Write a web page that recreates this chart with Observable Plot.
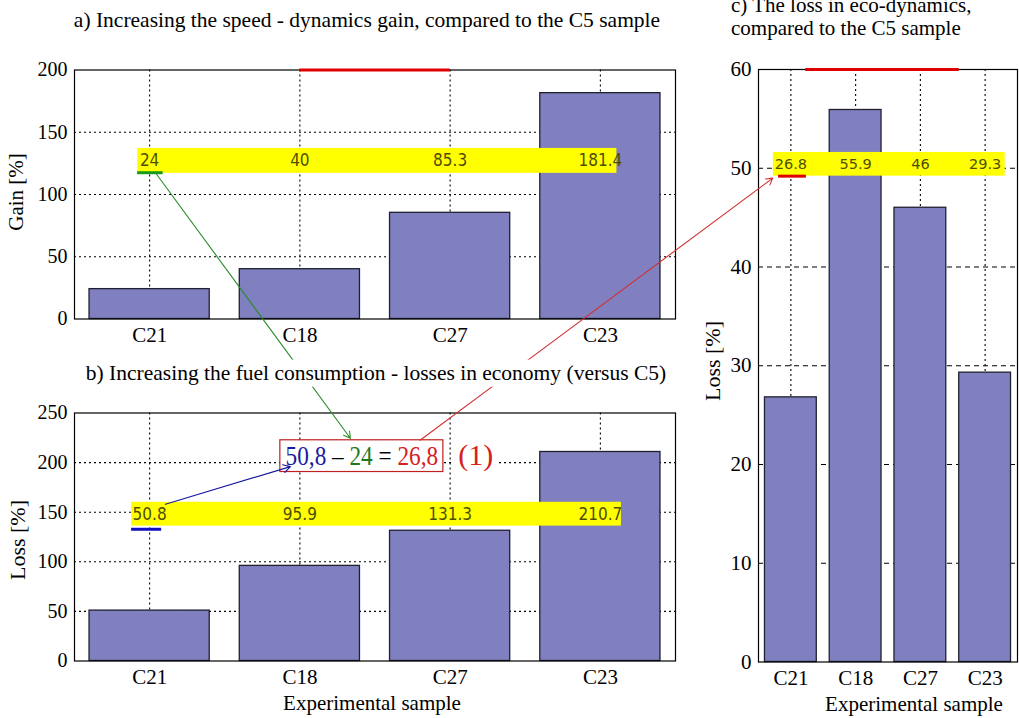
<!DOCTYPE html>
<html><head><meta charset="utf-8">
<script src="https://cdn.jsdelivr.net/npm/d3@7"></script>
<script src="https://cdn.jsdelivr.net/npm/@observablehq/plot@0.6"></script>
<style>
html,body{margin:0;padding:0;background:#fff;}
#page{position:relative;width:1019px;height:718px;overflow:hidden;background:#fff;}
#page svg{position:absolute;left:0;top:0;}
.lbl{position:absolute;white-space:nowrap;font-family:"Liberation Serif","Times New Roman",serif;color:#000;line-height:1.15;}
</style></head><body><div id="page"></div>
<script>
// ---- data ----
const samples = ["C21", "C18", "C27", "C23"];
const gain = [24, 40, 85.3, 181.4];          // a) dynamics gain [%]
const fuelLoss = [50.8, 95.9, 131.3, 210.7]; // b) losses in economy [%]
const ecoLoss = [26.8, 55.9, 46, 29.3];      // c) loss in eco-dynamics [%]
const gainTicks = [0, 50, 100, 150, 200];
const fuelTicks = [0, 50, 100, 150, 200, 250];
const ecoTicks = [0, 10, 20, 30, 40, 50, 60];

// annotations, in each panel's data units (x: sample index 1..4)
const bandA = {x1: 0.92, x2: 4.11, y1: 117, y2: 137, ty: 127};
const bandB = {x1: 0.88, x2: 4.14, y1: 136, y2: 160, ty: 148};
const bandC = {x1: 0.73, x2: 4.31, y1: 49.2, y2: 51.6, ty: 50.4};
const underA = {x1: 0.92, x2: 1.09, y: 117.5};
const underB = {x1: 0.88, x2: 1.08, y: 132.8};
const underC = {x1: 0.81, x2: 1.24, y: 49.2};
const topRedA = {x1: 2, x2: 3, y: 200};
const topRedC = {x1: 1.23, x2: 3.6, y: 60};
const eqBox = {x1: 1.87, x2: 2.955, y1: 190.5, y2: 222.5};
const eqNote = {x: 3.17, y: 207.4, text: "(1)"};
const blueArrow = {x1: 1.105, y1: 158, x2: 1.937, y2: 196};
const greenArrow = {from: [1.045, 116.5], to: [2.336, 224.5]}; // panel a -> panel b
const redArrow = {from: [2.80, 222.5], to: [0.72, 49.0]};      // panel b -> panel c

// ---- layout ----
const W = 1019, H = 718;
const A = {left: 74, right: 675, top: 69.5, bottom: 318.5};
const B = {left: 74, right: 675, top: 412.5, bottom: 660.5};
const C = {left: 758, right: 1017, top: 69, bottom: 661.5};
const BAR = "#8080c0", BAR_STROKE = "#202030", LBL = "#4e4e00";
const SERIF = '"Liberation Serif","Times New Roman",serif';
const NARROW = '"Liberation Sans Narrow","DejaVu Sans Condensed","Arial Narrow",sans-serif';
const DSANS = '"DejaVu Sans",sans-serif';

const toRows = vals => samples.map((s, i) => ({sample: s, i: i + 1, v: vals[i]}));
const margins = f => ({marginLeft: f.left, marginRight: W - f.right, marginTop: f.top, marginBottom: H - f.bottom});
const grid = {stroke: "#000", strokeOpacity: 1, strokeWidth: 1.1};

function panel(frame, vals, ticks, band, under, underColor, yFont, xFont, lblFont, lblSize, hDash, extra, after) {
  const rows = toRows(vals);
  const ymax = ticks[ticks.length - 1];
  return Plot.plot({
    width: W, height: H, ...margins(frame),
    style: {background: "transparent", fontFamily: SERIF, fontSize: yFont + "px", overflow: "visible"},
    x: {type: "linear", domain: [0.5, 4.5]},
    y: {domain: [0, ymax]},
    marks: [
      Plot.gridY({ticks: ticks.filter(t => t > 0 && t < ymax), ...grid, strokeDasharray: hDash}),
      Plot.gridX({ticks: [1, 2, 3, 4], ...grid, strokeDasharray: "2,3"}),
      Plot.rectY(rows, {x1: d => d.i - 0.4, x2: d => d.i + 0.4, y: "v", fill: BAR, stroke: BAR_STROKE, strokeWidth: 1.3}),
      ...(extra || []),
      Plot.rect([band], {x1: "x1", x2: "x2", y1: "y1", y2: "y2", fill: "#ffff00"}),
      Plot.text(rows, {x: "i", y: band.ty, text: d => String(d.v), fill: LBL, fontSize: lblSize, fontFamily: lblFont}),
      Plot.ruleY([under], {x1: "x1", x2: "x2", y: "y", stroke: underColor, strokeWidth: 3}),
      Plot.frame({stroke: "#000", strokeWidth: 1.2}),
      ...(after || []),
      Plot.axisY({ticks, tickSize: 0, tickPadding: 7, label: null, fontSize: yFont}),
      Plot.axisX({ticks: [1, 2, 3, 4], tickFormat: d => samples[d - 1], tickSize: 0, tickPadding: 8, label: null, fontSize: xFont})
    ]
  });
}

const page = document.getElementById("page");

const pa = panel(A, gain, gainTicks, bandA, underA, "#1a9a1a", 20, 21, NARROW, 17, "2,3", [],
  [Plot.ruleY([topRedA], {x1: "x1", x2: "x2", y: "y", stroke: "#e00000", strokeWidth: 3})]);

const eqText = `${String(fuelLoss[0]).replace(".", ",")} – ${gain[0]} = ${String(ecoLoss[0]).replace(".", ",")}`;
const pb = panel(B, fuelLoss, fuelTicks, bandB, underB, "#1010c0", 20, 21, NARROW, 17, "2,3", [
  Plot.text([eqNote], {x: "x", y: "y", text: "text", fill: "#d42020", fontSize: 30, fontFamily: SERIF, stroke: "white", strokeWidth: 14, paintOrder: "stroke"}),
  Plot.rect([eqBox], {x1: "x1", x2: "x2", y1: "y1", y2: "y2", fill: "white", stroke: "#c02020", strokeWidth: 1.2}),
  Plot.text([eqBox], {x: d => (d.x1 + d.x2) / 2, y: d => (d.y1 + d.y2) / 2, text: () => eqText, fontSize: 28, fontFamily: SERIF, fill: "#000"})
], [
  Plot.arrow([blueArrow], {x1: "x1", y1: "y1", x2: "x2", y2: "y2", stroke: "#1a1aa0", strokeWidth: 1.2, headLength: 10})
]);

const pc = panel(C, ecoLoss, ecoTicks, bandC, underC, "#e00000", 21, 21, DSANS, 14.5, "5,4", [],
  [Plot.ruleY([topRedC], {x1: "x1", x2: "x2", y: "y", stroke: "#e00000", strokeWidth: 3})]);

page.append(pa, pb, pc);

// colour the parts of the equation (horizontally compressed like the reference)
d3.select(pb).selectAll("text").filter(function () { return this.textContent === eqText; }).each(function () {
  const el = d3.select(this);
  const parts = [[String(fuelLoss[0]).replace(".", ","), "#1a1aa0"], [" – ", "#000"], [String(gain[0]), "#1f7a1f"], [" = ", "#000"], [String(ecoLoss[0]).replace(".", ","), "#d42020"]];
  el.text(null);
  parts.forEach(([t, c]) => el.append("tspan").attr("fill", c).text(t));
  const x = +el.attr("x") || 0;
  const t = el.attr("transform") || "";
  el.attr("transform", `${t} translate(${x},0) scale(0.83,1) translate(${-x},0)`);
});

// cross-panel arrows through the panels' scales
const px = (p, v) => p.scale("x").apply(v), py = (p, v) => p.scale("y").apply(v);
const g = {x1: px(pa, greenArrow.from[0]), y1: py(pa, greenArrow.from[1]), x2: px(pb, greenArrow.to[0]), y2: py(pb, greenArrow.to[1])};
const r = {x1: px(pb, redArrow.from[0]), y1: py(pb, redArrow.from[1]), x2: px(pc, redArrow.to[0]), y2: py(pc, redArrow.to[1])};
const overlay = Plot.plot({
  width: W, height: H, margin: 0,
  style: {background: "transparent", overflow: "visible"},
  x: {type: "identity", axis: null}, y: {type: "identity", axis: null},
  marks: [
    Plot.arrow([g], {x1: "x1", y1: "y1", x2: "x2", y2: "y2", stroke: "#2a8a2a", strokeWidth: 1.1, headLength: 10}),
    Plot.arrow([r], {x1: "x1", y1: "y1", x2: "x2", y2: "y2", stroke: "#d03030", strokeWidth: 1.1, headLength: 10})
  ]
});
page.append(overlay);

// text labels
function label(text, x, y, css) {
  const d = document.createElement("div");
  d.className = "lbl";
  d.innerHTML = text;
  d.style.left = x + "px"; d.style.top = y + "px";
  Object.assign(d.style, css || {});
  page.append(d);
  return d;
}
label("a) Increasing the speed - dynamics gain, compared to the C5 sample", 367, 20, {fontSize: "21.5px", transform: "translate(-50%,-50%)"});
label("b) Increasing the fuel consumption - losses in economy (versus C5)", 376, 373, {fontSize: "21.5px", transform: "translate(-50%,-50%)", background: "#fff", padding: "1px 6px"});
label("c) The loss in eco-dynamics,", 731, -6, {fontSize: "21px", lineHeight: "22px"});
label("compared to the C5 sample", 731, 17, {fontSize: "21px", lineHeight: "22px"});
label("Gain [%]", 16, 192, {fontSize: "21px", transform: "translate(-50%,-50%) rotate(-90deg)"});
label("Loss [%]", 18, 540, {fontSize: "22px", transform: "translate(-50%,-50%) rotate(-90deg)"});
label("Loss [%]", 713, 361, {fontSize: "22px", transform: "translate(-50%,-50%) rotate(-90deg)"});
label("Experimental sample", 372, 703, {fontSize: "21px", transform: "translate(-50%,-50%)"});
label("Experimental sample", 914, 704, {fontSize: "21px", transform: "translate(-50%,-50%)"});
</script></body></html>
